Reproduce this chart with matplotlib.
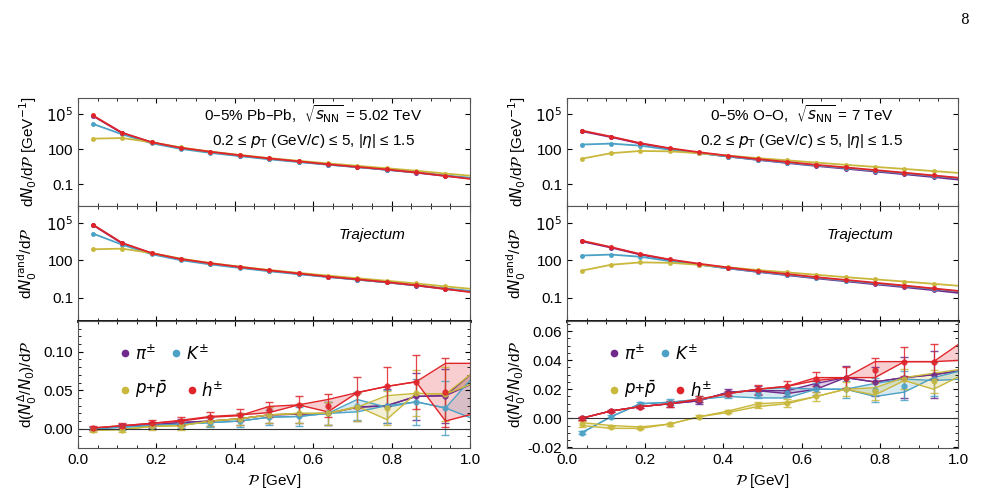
import numpy as np
import matplotlib.pyplot as plt

P = [0.0375 + 0.075 * k for k in range(14)]

C_PI = "#6f2a8c"
C_K = "#4ba2c6"
C_P = "#c9b83c"
C_H = "#e0242a"

# top panels: dN0/dP
pb_top = {
    "pi": [7.5e4, 2.4e3, 380, 120, 55, 28, 15, 8.5, 4.8, 2.9, 1.7, 0.95, 0.5, 0.28],
    "K": [1.5e4, 1.9e3, 320, 105, 48, 25, 13.5, 7.8, 4.6, 2.8, 1.7, 1.0, 0.55, 0.32],
    "p": [800, 900, 400, 140, 62, 32, 17, 10, 6, 3.7, 2.3, 1.4, 0.8, 0.48],
    "h": [8e4, 2.6e3, 400, 130, 60, 30, 16, 9, 5, 3.0, 1.8, 1.0, 0.5, 0.25],
}
oo_top = {
    "pi": [3.5e3, 1.1e3, 300, 110, 48, 23, 12, 6.5, 3.6, 2.1, 1.2, 0.7, 0.4, 0.22],
    "K": [250, 300, 200, 90, 45, 23, 12.5, 7, 4, 2.4, 1.4, 0.85, 0.5, 0.3],
    "p": [15, 45, 70, 65, 45, 28, 17, 11, 7, 4.5, 3, 2, 1.3, 0.85],
    "h": [4e3, 1.2e3, 330, 120, 55, 27, 14, 8, 4.5, 2.7, 1.6, 0.95, 0.55, 0.32],
}

# bottom panels: d(N0^Delta/N0)/dP, two variants (a, b) per species, errors
pb_bot = {
    "pi": ([0.0, .003, .005, .008, .010, .013, .018, .019, .020, .028, .030, .042, .043, .075],
           [0.0, .003, .005, .008, .010, .013, .018, .019, .020, .028, .030, .042, .043, .060],
           [.002, .003, .004, .005, .006, .008, .010, .012, .015, .018, .022, .030, .035]),
    "K": ([0.0, .002, .004, .006, .008, .010, .015, .016, .020, .038, .028, .035, .027, .012],
          [0.0, .002, .004, .006, .008, .010, .015, .016, .020, .022, .030, .035, .027, .070],
          [.002, .003, .004, .005, .006, .008, .010, .012, .015, .018, .022, .030, .035]),
    "p": ([-.002, -.001, .003, .004, .010, .013, .018, .020, .020, .029, .012, .046, .045, .075],
          [-.002, -.001, .003, .004, .010, .013, .018, .020, .020, .028, .043, .046, .045, .060],
          [.002, .003, .004, .005, .006, .008, .010, .012, .015, .018, .022, .030, .035]),
    "h": ([.001, .004, .007, .010, .015, .017, .029, .031, .022, .047, .055, .061, .085, .085],
          [.001, .004, .007, .011, .016, .018, .021, .031, .038, .047, .055, .061, .010, .020],
          [.002, .003, .004, .005, .006, .008, .010, .012, .015, .020, .025, .035, .045]),
}
oo_bot = {
    "pi": ([0.0, .005, .008, .010, .012, .018, .019, .019, .024, .028, .025, .028, .030, .033],
           [0.0, .005, .008, .010, .012, .018, .019, .017, .020, .028, .025, .028, .030, .033],
           [.001, .001, .001, .002, .002, .002, .003, .003, .004, .008, .010, .014, .016]),
    "K": ([-.010, .001, .010, .011, .013, .015, .014, .014, .020, .020, .015, .018, .028, .033],
          [-.010, .001, .010, .011, .013, .017, .020, .021, .020, .020, .024, .027, .026, .027],
          [.001, .001, .001, .002, .002, .002, .003, .003, .004, .006, .008, .010, .012]),
    "p": ([-.005, -.007, -.007, -.004, .001, .005, .010, .011, .015, .020, .021, .028, .031, .034],
          [-.003, -.005, -.006, -.004, .001, .004, .008, .010, .015, .020, .016, .026, .020, .030],
          [.002, .001, .001, .001, .001, .001, .002, .003, .003, .005, .006, .007, .008]),
    "h": ([0.0, .005, .008, .010, .013, .017, .020, .022, .028, .028, .039, .039, .039, .053],
          [0.0, .005, .008, .010, .013, .017, .020, .022, .026, .028, .028, .039, .039, .040],
          [.001, .001, .001, .002, .002, .002, .003, .004, .005, .007, .008, .010, .012]),
}

colors = {"pi": C_PI, "K": C_K, "p": C_P, "h": C_H}
order = ["pi", "K", "p", "h"]

plt.rcParams["font.family"] = ["Liberation Sans", "DejaVu Sans"]
plt.rcParams["mathtext.fontset"] = "dejavusans"

fig = plt.figure(figsize=(9.95, 5.01), dpi=100)
fig.text(0.974, 0.975, "8", ha="right", va="top", fontsize=10, family="DejaVu Serif")

W, H = 995, 501


def ax_at(x0, x1, y0, y1):
    return fig.add_axes([x0 / W, 1 - y1 / H, (x1 - x0) / W, (y1 - y0) / H])


def style(ax, bottom_labels):
    ax.set_xlim(0, 1)
    ax.tick_params(direction="in", top=True, right=True, labelsize=11, which="both")
    ax.set_xticks(np.arange(0, 1.01, 0.2))
    ax.set_xticks(np.arange(0, 1.01, 0.05), minor=True)
    if not bottom_labels:
        ax.tick_params(labelbottom=False)
    for s in ax.spines.values():
        s.set_color("#555555")


def log_panel(ax, data):
    for k in order:
        ax.plot(P, data[k], color=colors[k], lw=1.3, marker="o", ms=2.5, zorder=3 if k == "h" else 2)
    ax.set_yscale("log")
    ax.set_ylim(1.3e-3, 2.5e6)
    ax.set_yticks([0.1, 100, 1e5])
    ax.set_yticklabels(["0.1", "100", r"$10^5$"])
    ax.minorticks_off()


def diff_panel(ax, data):
    for k in order:
        a, b, err = data[k]
        c = colors[k]
        ax.fill_between(P, a, b, color=c, alpha=0.22, lw=0)
        ax.plot(P, a, color=c, lw=1)
        ax.plot(P, b, color=c, lw=1)
        mid = [(u + v) / 2 for u, v in zip(a[:13], b[:13])]
        ax.errorbar(P[:13], mid, yerr=err, fmt="o", ms=3.5, color=c, ecolor=c,
                    elinewidth=0.9, capsize=3, alpha=0.85)
    ax.axhline(0, color="#333333", lw=0.8)


for col, (top, bot, label, sq, yl, yt) in enumerate([
        (pb_top, pb_bot, "0–5% Pb–Pb,", "5.02 TeV", (-0.025, 0.14), [0.0, 0.05, 0.10]),
        (oo_top, oo_bot, "0–5% O–O,", "7 TeV", (-0.0205, 0.067), [-0.02, 0.0, 0.02, 0.04, 0.06])]):
    x0 = 78 if col == 0 else 567
    x1 = 470 if col == 0 else 958
    a1 = ax_at(x0, x1, 98, 206)
    a2 = ax_at(x0, x1, 206, 321)
    a3 = ax_at(x0, x1, 321, 448)
    log_panel(a1, top)
    log_panel(a2, top)
    diff_panel(a3, bot)
    for a, lab in [(a1, False), (a2, False), (a3, True)]:
        style(a, lab)
    a3.set_ylim(*yl)
    a3.set_yticks(yt)
    a3.set_yticklabels([f"{v:.2f}" for v in yt])
    a3.set_yticks(np.arange(yt[0] - 0.01, yl[1], 0.01 if col == 0 else 0.005), minor=True)
    a3.set_ylim(*yl)
    a3.set_xticklabels(["0.0", "0.2", "0.4", "0.6", "0.8", "1.0"])
    a3.set_xlabel(r"$\mathcal{P}$ [GeV]", fontsize=11)
    a2.spines["bottom"].set_linewidth(2)
    a2.spines["bottom"].set_color("black")

    a1.set_ylabel(r"d$N_0$/d$\mathcal{P}$ [GeV$^{-1}$]", fontsize=11, labelpad=2)
    a2.set_ylabel(r"d$N_0^{\rm rand}$/d$\mathcal{P}$", fontsize=11, labelpad=2)
    a3.set_ylabel(r"d($N_0^\Delta$/$N_0$)/d$\mathcal{P}$", fontsize=11, labelpad=2)
    for a in (a1, a2, a3):
        a.yaxis.set_label_coords(-0.1, 0.5)

    a1.text(0.6, 0.85, label + r"  $\sqrt{s_{\rm NN}}$ = " + sq, transform=a1.transAxes,
            ha="center", va="center", fontsize=11)
    a1.text(0.6, 0.6, r"0.2 ≤ $p_{\rm T}$ (GeV/$c$) ≤ 5, |$\eta$| ≤ 1.5", transform=a1.transAxes,
            ha="center", va="center", fontsize=11)
    a2.text(0.75, 0.75, "Trajectum", style="italic", transform=a2.transAxes,
            ha="center", va="center", fontsize=11)

    # legend
    items = [("pi", r"$\pi^{\pm}$", 0.12, 0.75), ("K", r"$K^{\pm}$", 0.25, 0.75),
             ("p", r"$p$+$\bar{p}$", 0.12, 0.46), ("h", r"$h^{\pm}$", 0.29, 0.46)]
    for k, t, lx, ly in items:
        a3.plot([lx], [ly], "o", ms=4.5, color=colors[k], transform=a3.transAxes)
        a3.text(lx + 0.025, ly, t, transform=a3.transAxes, va="center", fontsize=12)

fig.savefig("out.png", dpi=100)
